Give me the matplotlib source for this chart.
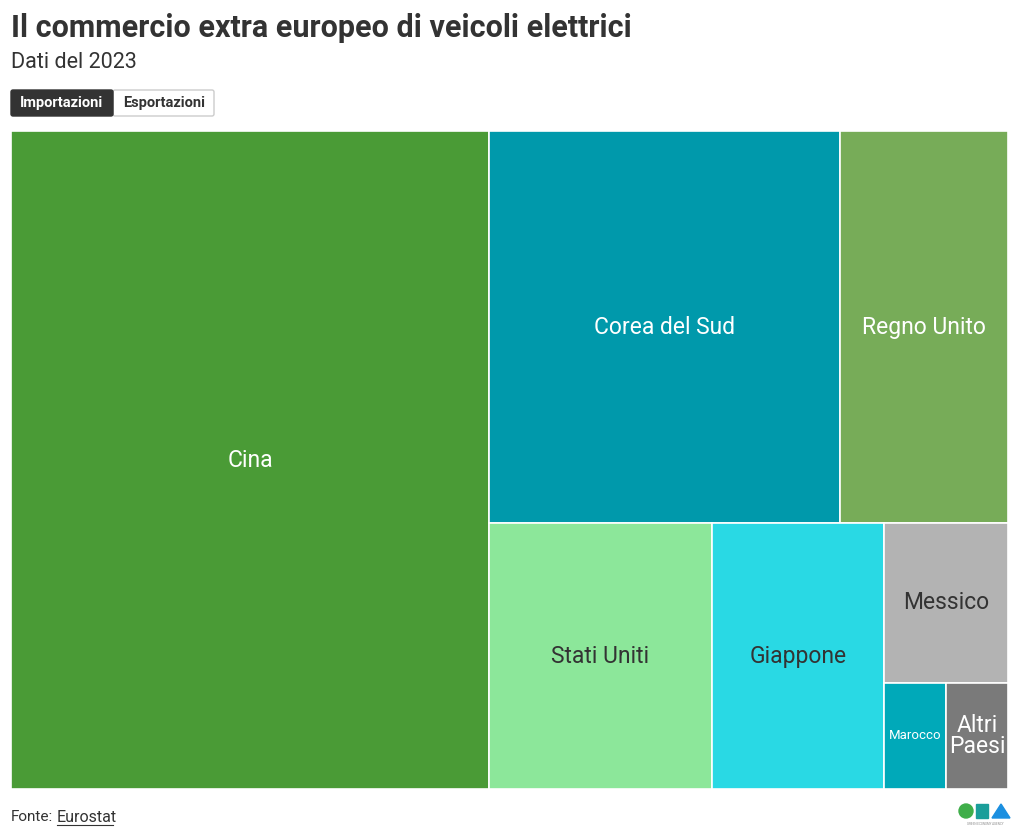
"""Treemap: EU extra-European trade in electric vehicles (imports, 2023)."""

import matplotlib

matplotlib.use("Agg")
import matplotlib.pyplot as plt
from matplotlib.patches import Rectangle, FancyBboxPatch, Circle, Polygon

W, H, DPI = 1020, 839, 100
FONT = ["Roboto", "DejaVu Sans"]
plt.rcParams["font.family"] = FONT

# --- data (share of imports, %) ---------------------------------------------
countries = [
    "Cina",
    "Corea del Sud",
    "Regno Unito",
    "Stati Uniti",
    "Giappone",
    "Messico",
    "Marocco",
    "Altri\nPaesi",
]
shares = [47.9, 20.95, 10.03, 9.0, 7.0, 3.0, 1.0, 1.0]
colors = [
    "#4a9b36",
    "#0099ab",
    "#77ac58",
    "#8ce79a",
    "#29d9e4",
    "#b3b3b3",
    "#00a9b9",
    "#7a7a7a",
]
label_dark = [False, False, False, True, True, True, False, False]
label_size = [16.5, 16.5, 16.5, 16.5, 16.5, 16.5, 9.5, 16.5]

TILE_RATIO = 1.13  # squarify target aspect ratio that reproduces the layout


def squarify(values, x0, y0, x1, y1, ratio=TILE_RATIO):
    """d3.treemapSquarify port; values sorted descending. Returns rects."""
    rects = [None] * len(values)
    value = sum(values)
    n = len(values)
    i0 = i1 = 0
    while i0 < n:
        dx, dy = x1 - x0, y1 - y0
        sum_v = values[i1]
        i1 += 1
        min_v = max_v = sum_v
        alpha = max(dy / dx, dx / dy) / (value * ratio)
        beta = sum_v * sum_v * alpha
        min_ratio = max(max_v / beta, beta / min_v)
        while i1 < n:
            nv = values[i1]
            sum_v += nv
            min_v, max_v = min(min_v, nv), max(max_v, nv)
            beta = sum_v * sum_v * alpha
            new_ratio = max(max_v / beta, beta / min_v)
            if new_ratio > min_ratio:
                sum_v -= nv
                break
            min_ratio = new_ratio
            i1 += 1
        row = list(range(i0, i1))
        if dx < dy:  # dice: row across the top
            y_end = y0 + dy * sum_v / value if value else y1
            x = x0
            for i in row:
                w = dx * values[i] / sum_v
                rects[i] = (x, y0, w, y_end - y0)
                x += w
            y0 = y_end
        else:  # slice: column on the left
            x_end = x0 + dx * sum_v / value if value else x1
            y = y0
            for i in row:
                h = dy * values[i] / sum_v
                rects[i] = (x0, y, x_end - x0, h)
                y += h
            x0 = x_end
        value -= sum_v
        i0 = i1
    return rects


fig = plt.figure(figsize=(W / DPI, H / DPI), dpi=DPI)

# treemap area in pixels
TX0, TY0, TX1, TY1 = 11, 131, 1008, 789
ax = fig.add_axes([TX0 / W, 1 - TY1 / H, (TX1 - TX0) / W, (TY1 - TY0) / H])
tw, th = TX1 - TX0, TY1 - TY0
ax.set_xlim(0, tw)
ax.set_ylim(th, 0)
ax.axis("off")

for name, (x, y, w, h), c, dark, fs in zip(
    countries, squarify(shares, 0, 0, tw, th), colors, label_dark, label_size
):
    ax.add_patch(Rectangle((x, y), w, h, facecolor=c, edgecolor="white", lw=1.2))
    ax.text(
        x + w / 2,
        y + h / 2,
        name,
        ha="center",
        va="center",
        fontsize=fs,
        color="#333333" if dark else "white",
        linespacing=0.9,
    )

# --- header -----------------------------------------------------------------
fig.text(11 / W, 1 - 28 / H, "Il commercio extra europeo di veicoli elettrici",
         fontsize=22, fontweight="bold", color="#333333", va="center")
fig.text(11 / W, 1 - 63 / H, "Dati del 2023", fontsize=15.5, color="#333333",
         va="center")

# toggle buttons
bx = fig.add_axes([0, 0, 1, 1], zorder=-1)
bx.set_xlim(0, W)
bx.set_ylim(H, 0)
bx.axis("off")
bx.add_patch(FancyBboxPatch((113, 90), 101, 26, boxstyle="round,pad=0,rounding_size=2",
                            facecolor="white", edgecolor="#cccccc", lw=1))
bx.add_patch(FancyBboxPatch((11, 90), 102, 26, boxstyle="round,pad=0,rounding_size=2",
                            facecolor="#333333", edgecolor="#333333", lw=1))
bx.text(62, 103.5, "Importazioni", ha="center", va="center", fontsize=10.5,
        fontweight="bold", color="white")
bx.text(164, 103.5, "Esportazioni", ha="center", va="center", fontsize=10.5,
        fontweight="bold", color="#333333")

# --- footer -----------------------------------------------------------------
bx.text(11, 817, "Fonte:", ha="left", va="center", fontsize=11, color="#333333")
bx.text(57, 817, "Eurostat", ha="left", va="center", fontsize=11.5, color="#333333")
bx.plot([57, 113], [825, 825], color="#333333", lw=0.8)

# small GEA logo
bx.add_patch(Circle((966, 811), 7, color="#3fae49"))
bx.add_patch(Rectangle((976, 804), 12, 14, color="#1a9e9a"))
bx.add_patch(Polygon([(992, 818), (1001, 804), (1010, 818)], color="#1b8fe0"))
bx.text(985, 824, "GREEN ECONOMY AGENCY", ha="center", va="center", fontsize=2.2,
        color="#888888")

fig.savefig("out.png", dpi=DPI, facecolor="white")
